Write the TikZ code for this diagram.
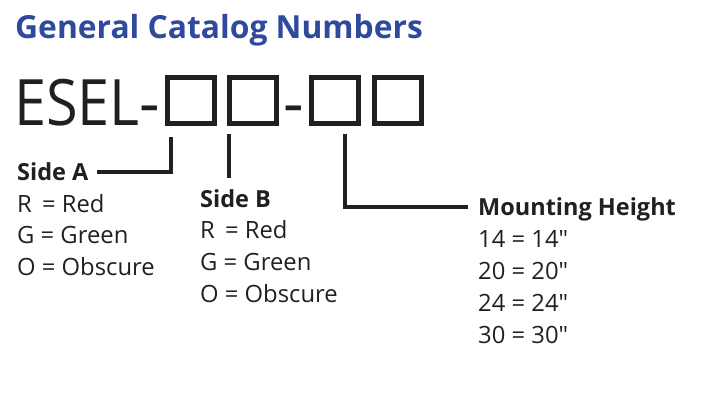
\documentclass[tikz,border=0pt]{standalone}
\usepackage{fontspec}
\setmainfont{Open Sans}[Ligatures=TeXOff]
\usetikzlibrary{calc}
\definecolor{titleblue}{HTML}{2F4A9C}
\definecolor{ink}{HTML}{231F20}
\begin{document}
\begin{tikzpicture}[x=1pt,y=-1pt,
  txt/.style={anchor=base west,inner sep=0pt,text=ink,font=\fontsize{23.8}{24}\selectfont},
  lbl/.style={txt,font=\fontsize{23.5}{24}\selectfont\bfseries},
  big/.style={anchor=base west,inner sep=0pt,text=ink,font=\fontsize{64}{66}\selectfont},
  bigdash/.style={anchor=base,inner sep=0pt,text=ink,font=\fontsize{64}{66}\selectfont},
  digit/.style={draw=ink,line width=5pt,minimum width=47pt,minimum height=46pt,inner sep=0pt},
  conn/.style={draw=ink,line width=3.5pt}]
\useasboundingbox (0,0) rectangle (701,412);
\node[anchor=base west,inner sep=0pt,text=titleblue,font=\fontsize{31.8}{32}\selectfont\bfseries] (title) at (15,39) {General Catalog Numbers};
\node[big,xscale=0.9] (esel) at (14,125) {ESEL};
\node[bigdash] (dash1) at (150,125) {-};
\node[digit] (b1) at (191,100.5) {};
\node[digit] (b2) at (253,100.5) {};
\node[bigdash] (dash2) at (294,125) {-};
\node[digit] (b3) at (335,100.5) {};
\node[digit] (b4) at (397.5,100.5) {};
% Side A
\node[lbl] (sa) at (17,180) {Side A};
\node[txt] (sa1) at (17,212) {R\,\ = Red};
\node[txt] (sa2) at (17,243) {G = Green};
\node[txt] (sa3) at (17,275) {O = Obscure};
% Side B
\node[lbl] (sb) at (200,207) {Side B};
\node[txt] (sb1) at (200,238) {R\,\ = Red};
\node[txt] (sb2) at (200,270) {G = Green};
\node[txt] (sb3) at (200,302) {O = Obscure};
% Mounting height
\node[lbl] (mh) at (478,215) {Mounting Height};
\node[txt] (m1) at (478,247) {14 = 14"};
\node[txt] (m2) at (478,279) {20 = 20"};
\node[txt] (m3) at (478,311) {24 = 24"};
\node[txt] (m4) at (478,343) {30 = 30"};
% connectors
\coordinate (ca) at (97,172);
\coordinate (cm) at (468,207);
\draw[conn] (b1.south west -| 171,0) ++(0,11) |- (ca);
\draw[conn] (b2.south west -| 229,0) ++(0,8) -- ++(0,44);
\draw[conn] (b3.south west -| 345,0) ++(0,8) |- (cm);
\end{tikzpicture}
\end{document}
